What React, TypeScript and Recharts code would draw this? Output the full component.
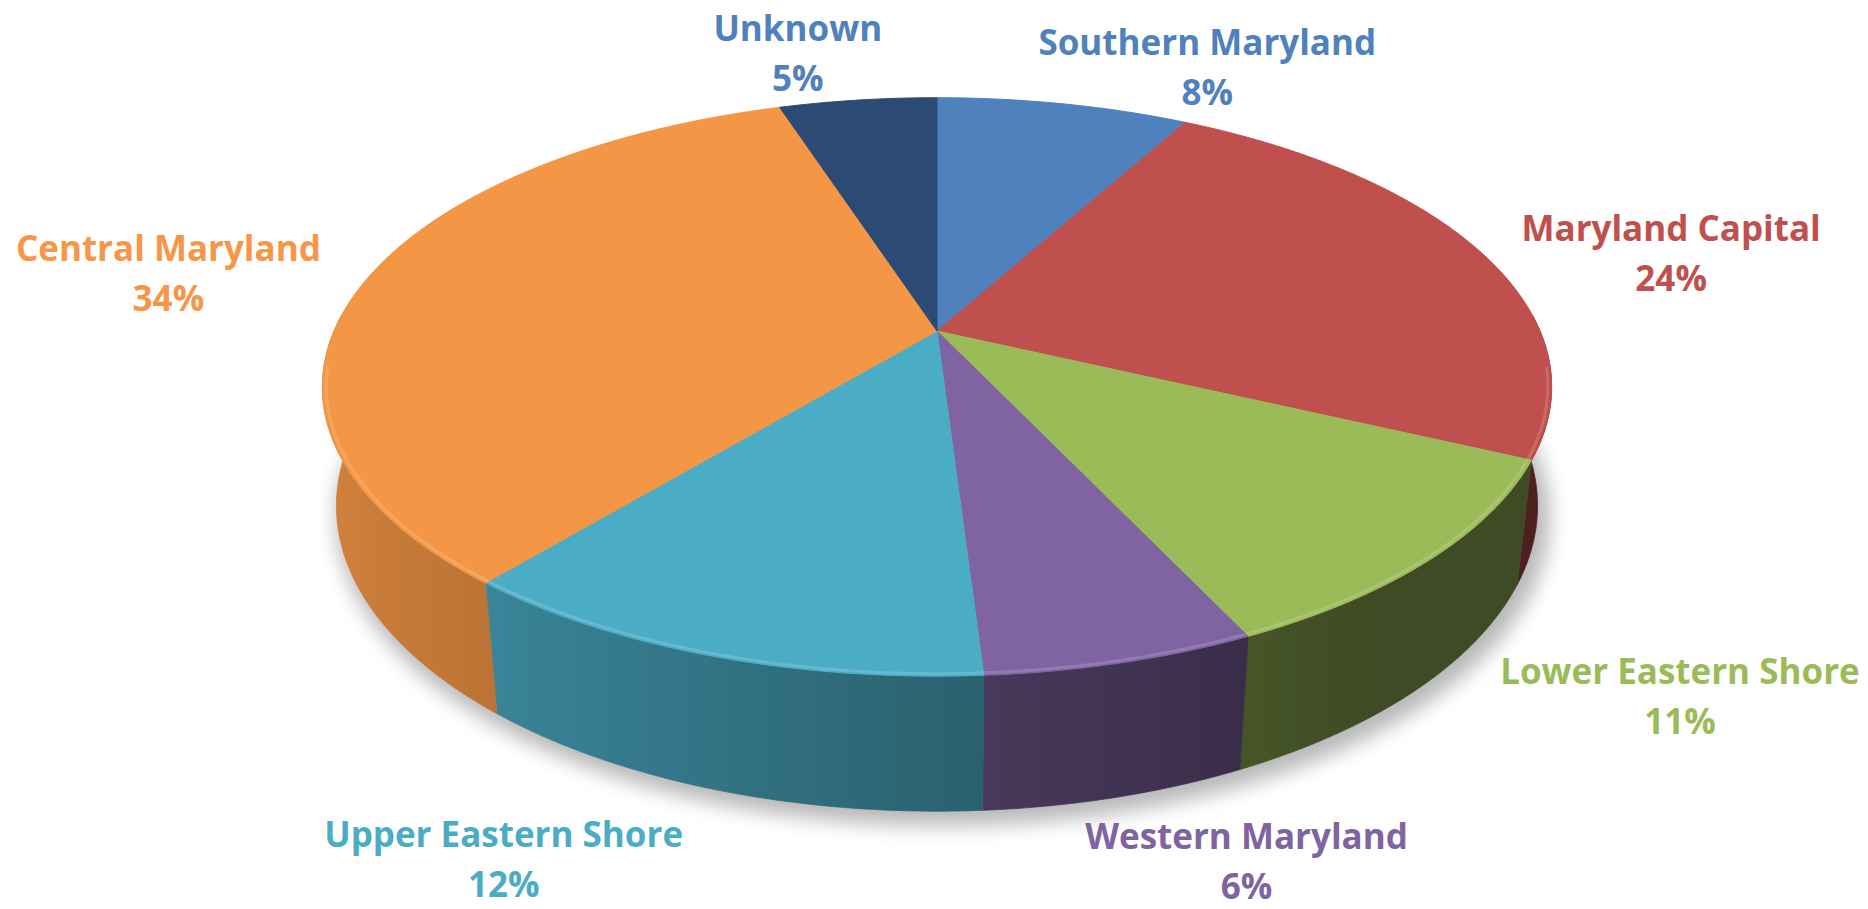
import React from 'react';
import { PieChart, Pie } from 'recharts';

// ---- data ----
const CATEGORIES = [
  'Southern Maryland',
  'Maryland Capital',
  'Lower Eastern Shore',
  'Western Maryland',
  'Upper Eastern Shore',
  'Central Maryland',
  'Unknown',
];
const SHARES = [8, 24, 11, 6, 12, 34, 5];

// ---- styles ----
const TOP_COLORS = ['#4F81BD', '#C0504D', '#9BBB59', '#8064A2', '#4BACC6', '#F39645', '#2C4B74'];
const LABEL_COLORS = ['#4F81BD', '#C0504D', '#9BBB59', '#8064A2', '#4BACC6', '#F79646', '#4F81BD'];
const LABEL_OFFSETS: number[][] = [
  [144, -37],
  [193, 3],
  [249, 136],
  [125, 198],
  [-205, 203],
  [-197, -8],
  [-60, -48],
];

const data = CATEGORIES.map((name, i) => ({ name, value: SHARES[i] }));

const W = 1868;
const H = 909;
const PIE_CX = 937;
const PIE_CY = 331;
const PIE_R = 603;

// 3D perspective parameters
const PHI = (27.5 * Math.PI) / 180;
const SIN = Math.sin(PHI);
const COS = Math.cos(PHI);
const DIST = 4.586;
const THICK = 0.2238;

const rad = (d: number) => (d * Math.PI) / 180;

function project(r: number, angDeg: number, Y: number, cx: number, cy: number, R: number): [number, number] {
  const X = r * Math.cos(rad(angDeg));
  const Z = -r * Math.sin(rad(angDeg));
  const z = DIST - Y * SIN - Z * COS;
  const ycam = Y * COS - Z * SIN;
  const F = R * DIST;
  return [cx + (F * X) / z, cy - (F * ycam) / z];
}

function shade(hex: string, f: number): string {
  const h = hex.replace('#', '');
  const r = parseInt(h.slice(0, 2), 16);
  const g = parseInt(h.slice(2, 4), 16);
  const b = parseInt(h.slice(4, 6), 16);
  const c = (v: number) => Math.max(0, Math.min(255, Math.round(v * f)));
  return `rgb(${c(r)},${c(g)},${c(b)})`;
}

function mixWhite(hex: string, t: number): string {
  const h = hex.replace('#', '');
  const r = parseInt(h.slice(0, 2), 16);
  const g = parseInt(h.slice(2, 4), 16);
  const b = parseInt(h.slice(4, 6), 16);
  const c = (v: number) => Math.round(v + (255 - v) * t);
  return `rgb(${c(r)},${c(g)},${c(b)})`;
}

const sideFactor = (nx: number) => Math.max(0.4, Math.min(0.85, 0.58 - 0.3 * nx));

const idxOf = (props: any) => {
  const name = props?.payload?.name ?? props?.name;
  return CATEGORIES.indexOf(name);
};

function sampleAngles(a0: number, a1: number, step = 0.5): number[] {
  const n = Math.max(2, Math.ceil(Math.abs(a1 - a0) / step));
  const out: number[] = [];
  for (let i = 0; i <= n; i++) out.push(a0 + ((a1 - a0) * i) / n);
  return out;
}

const pts = (p: [number, number][]) => p.map(([x, y]) => `${x.toFixed(2)},${y.toFixed(2)}`).join(' ');

function SideShape(props: any) {
  const { cx, cy, startAngle, endAngle, outerRadius } = props;
  const idx = idxOf(props);
  const base = TOP_COLORS[idx] ?? '#888888';
  const all = sampleAngles(startAngle, endAngle);
  const vis = all.filter((a) => -Math.sin(rad(a)) > -0.06);

  let shadow: React.ReactNode = null;
  if (idx === 0) {
    const ring = sampleAngles(0, 360, 2).map((a) => project(1.01, a, -THICK, cx, cy, outerRadius));
    shadow = (
      <g>
        <defs>
          <filter id="pieShadow" x="-20%" y="-20%" width="140%" height="140%">
            <feGaussianBlur stdDeviation="10" />
          </filter>
        </defs>
        <polygon
          points={pts(ring.map(([x, y]) => [x + 6, y + 10] as [number, number]))}
          fill="#000"
          opacity={0.28}
          filter="url(#pieShadow)"
        />
      </g>
    );
  }

  if (vis.length < 2) return <g>{shadow}</g>;

  const top = vis.map((a) => project(1, a, 0, cx, cy, outerRadius));
  const bot = vis.map((a) => project(1, a, -THICK, cx, cy, outerRadius));
  const xs = [...top, ...bot].map((p) => p[0]);
  const xmin = Math.min(...xs);
  const xmax = Math.max(...xs);
  const span = Math.max(1, xmax - xmin);
  const stops = vis
    .filter((_, i) => i % 4 === 0 || i === vis.length - 1)
    .map((a) => {
      const [x] = project(1, a, 0, cx, cy, outerRadius);
      return { off: Math.max(0, Math.min(1, (x - xmin) / span)), col: shade(base, sideFactor(Math.cos(rad(a)))) };
    })
    .sort((p, q) => p.off - q.off);
  const gid = `sideGrad${idx}`;
  const poly = [...top, ...bot.slice().reverse()];
  return (
    <g>
      {shadow}
      <defs>
        <linearGradient id={gid} gradientUnits="userSpaceOnUse" x1={xmin} y1={0} x2={xmax} y2={0}>
          {stops.map((s, i) => (
            <stop key={i} offset={s.off} stopColor={s.col} />
          ))}
        </linearGradient>
      </defs>
      <polygon points={pts(poly)} fill={`url(#${gid})`} stroke={`url(#${gid})`} strokeWidth={0.8} />
    </g>
  );
}

function TopShape(props: any) {
  const { cx, cy, startAngle, endAngle, outerRadius } = props;
  const idx = idxOf(props);
  const base = TOP_COLORS[idx] ?? '#888888';
  const angs = sampleAngles(startAngle, endAngle);
  const rim = angs.map((a) => project(1, a, 0, cx, cy, outerRadius));
  const poly: [number, number][] = [[cx, cy], ...rim];
  const front = angs.filter((a) => -Math.sin(rad(a)) > 0.12).map((a) => project(0.994, a, 0, cx, cy, outerRadius));
  return (
    <g>
      <polygon points={pts(poly)} fill={base} stroke={base} strokeWidth={1} strokeLinejoin="round" />
      {front.length > 1 && (
        <polyline points={pts(front)} fill="none" stroke={mixWhite(base, 0.25)} strokeWidth={3} opacity={0.6} />
      )}
    </g>
  );
}

const renderLabel = (props: any) => {
  const { cx, cy, midAngle, outerRadius, percent } = props;
  const idx = idxOf(props);
  if (idx < 0) return null;
  const [ax, ay] = project(1, midAngle, 0, cx, cy, outerRadius);
  const [dx, dy] = LABEL_OFFSETS[idx];
  const x = ax + dx;
  const y = ay + dy;
  const style = {
    fontFamily: '"Open Sans", "DejaVu Sans", sans-serif',
    fontWeight: 700,
    fontSize: 35,
  } as React.CSSProperties;
  return (
    <g>
      <text x={x} y={y - 25} textAnchor="middle" dominantBaseline="central" fill={LABEL_COLORS[idx]} style={style}>
        {CATEGORIES[idx]}
      </text>
      <text x={x} y={y + 25} textAnchor="middle" dominantBaseline="central" fill={LABEL_COLORS[idx]} style={style}>
        {`${Math.round(percent * 100)}%`}
      </text>
    </g>
  );
};

export default function App() {
  return (
    <div style={{ position: 'absolute', left: 0, top: 0, width: W, height: H, background: '#fff' }}>
      <PieChart width={W} height={H} margin={{ top: 0, right: 0, bottom: 0, left: 0 }}>
        <Pie
          data={data}
          dataKey="value"
          nameKey="name"
          cx={PIE_CX}
          cy={PIE_CY}
          outerRadius={PIE_R}
          startAngle={90}
          endAngle={-270}
          stroke="none"
          isAnimationActive={false}
          shape={SideShape}
          inactiveShape={SideShape}
          activeShape={SideShape}
          label={false}
          labelLine={false}
        />
        <Pie
          data={data}
          dataKey="value"
          nameKey="name"
          cx={PIE_CX}
          cy={PIE_CY}
          outerRadius={PIE_R}
          startAngle={90}
          endAngle={-270}
          stroke="none"
          isAnimationActive={false}
          shape={TopShape}
          inactiveShape={TopShape}
          activeShape={TopShape}
          label={renderLabel}
          labelLine={false}
        />
      </PieChart>
    </div>
  );
}
